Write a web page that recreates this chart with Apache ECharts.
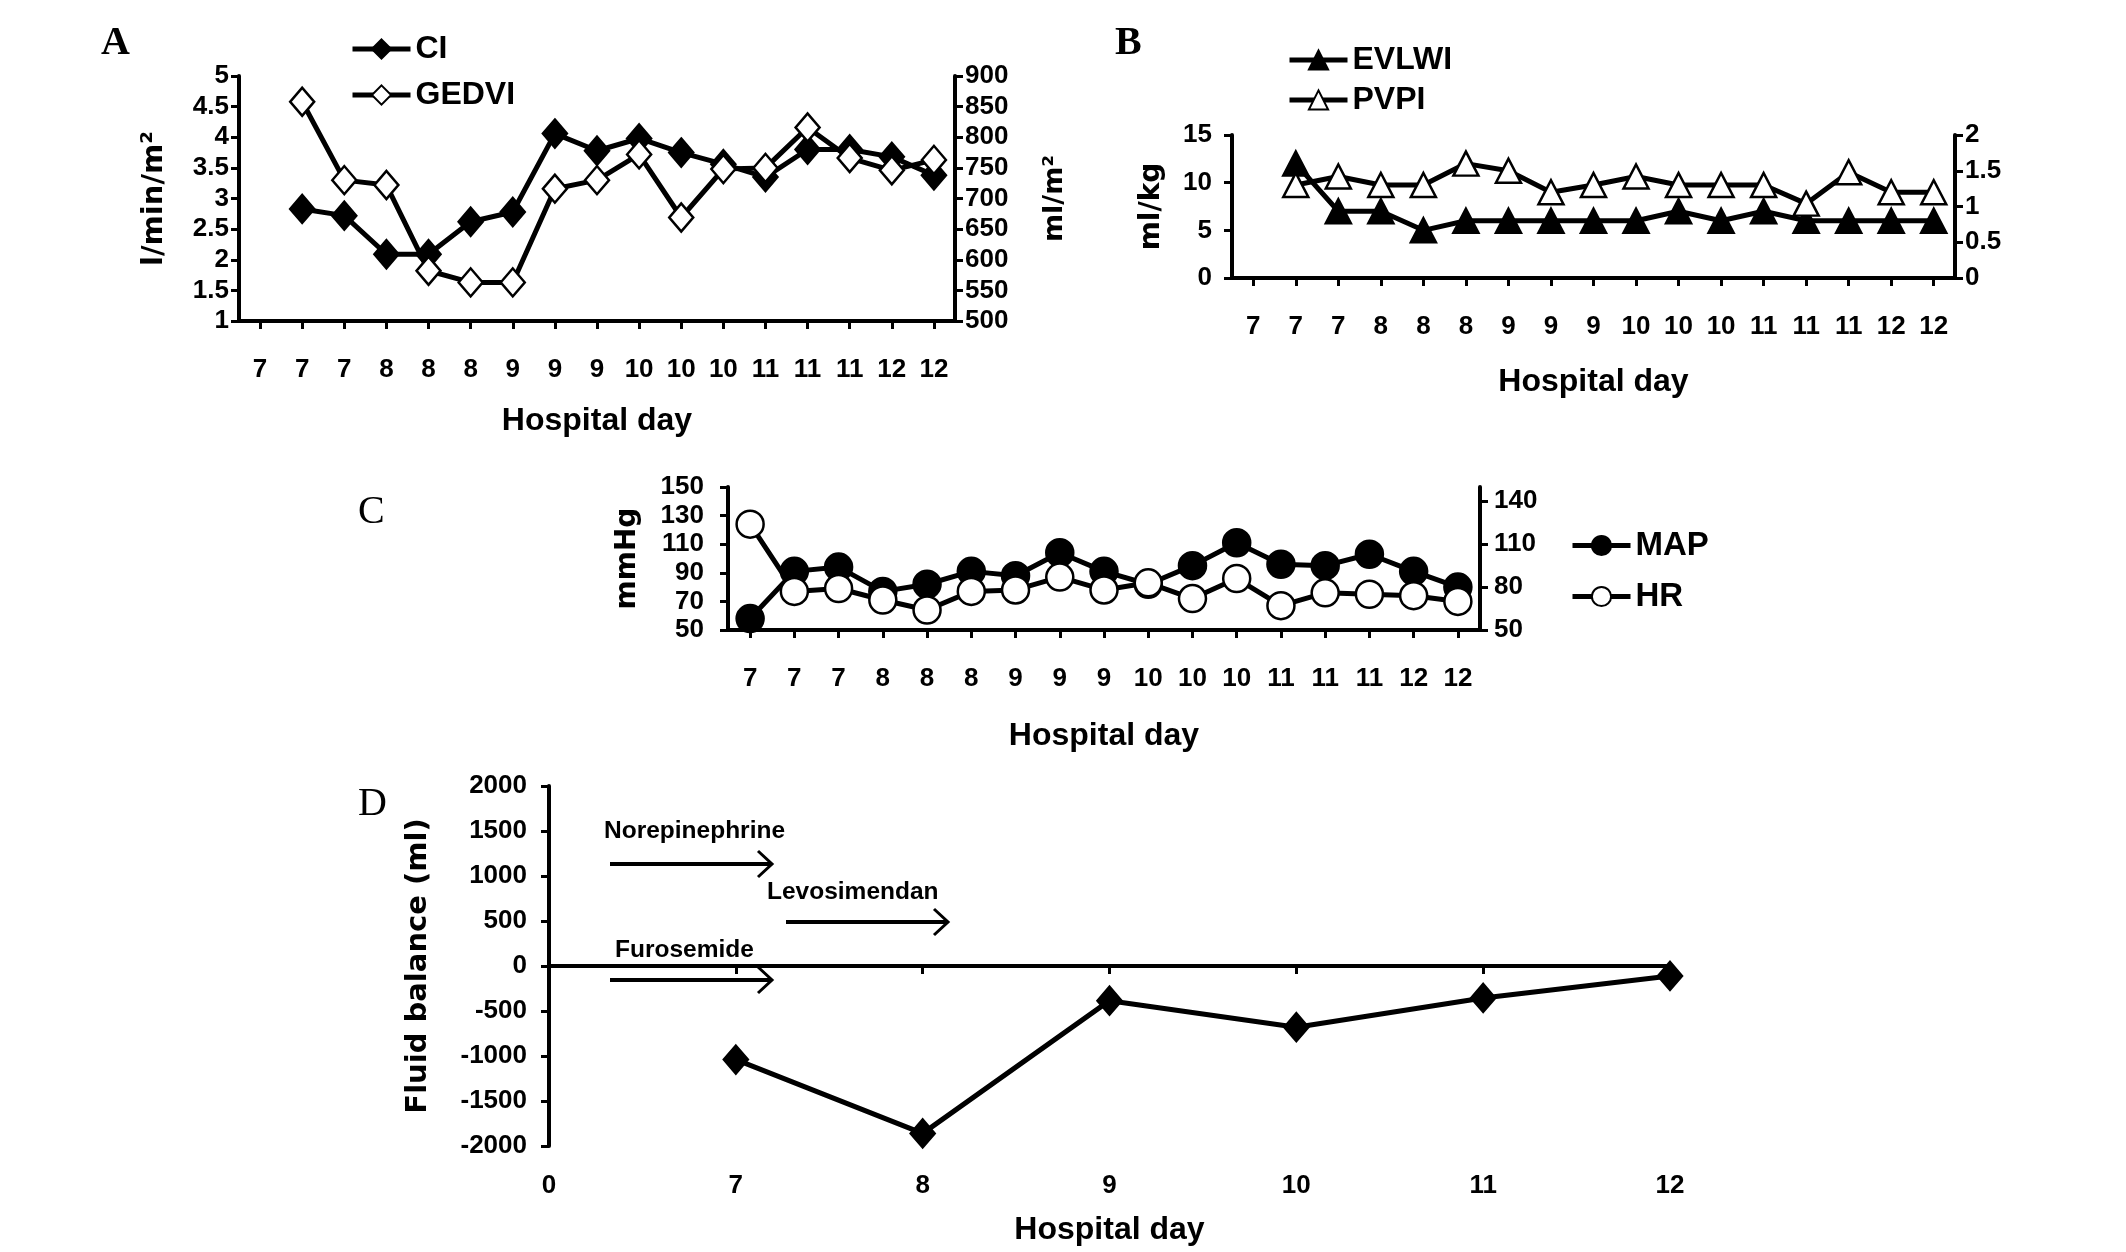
<!DOCTYPE html>
<html>
<head>
<meta charset="UTF-8">
<title>Hemodynamic monitoring</title>
<script src="https://cdn.jsdelivr.net/npm/echarts@6/dist/echarts.min.js"></script>
</head>
<body style="margin:0;background:#fff">
<div id="container" style="width:2126px;height:1252px"></div>
<script>
// x categories shared by panels A, B and C
var days = ['7', '7', '7', '8', '8', '8', '9', '9', '9', '10', '10', '10', '11', '11', '11', '12', '12'];
// panel A
var ci = [null, 2.83, 2.72, 2.09, 2.09, 2.62, 2.78, 4.06, 3.78, 3.98, 3.75, 3.56, 3.35, 3.80, 3.80, 3.68, 3.38];
var gedvi = [null, 858, 730, 722, 582, 563, 563, 716, 730, 772, 669, 748, 750, 816, 766, 746, 763];
// panel B
var evlwi = [null, 12, 7, 7, 5, 6, 6, 6, 6, 6, 7, 6, 7, 6, 6, 6, 6];
var pvpi = [null, 1.3, 1.42, 1.3, 1.3, 1.6, 1.5, 1.2, 1.3, 1.42, 1.3, 1.3, 1.3, 1.04, 1.48, 1.2, 1.2];
// panel C
var map = [58, 91, 94, 77, 82, 91, 88, 104, 91, 82, 95, 111, 96, 95, 103, 91, 80];
var hr = [124, 77, 79, 71, 64, 77, 78, 87, 78, 83, 72, 86, 67, 76, 75, 74, 70];
// panel D
var balanceDays = ['0', '7', '8', '9', '10', '11', '12'];
var balance = [null, -1040, -1860, -385, -680, -355, -110];

var dom = document.getElementById('container');
var myChart = echarts.init(dom);

var sans = '"Liberation Sans", Arial, sans-serif';
var wide = '"DejaVu Sans", Verdana, sans-serif';
var black = '#000';

function axisLine() {
	return { show: true, onZero: false, lineStyle: { color: black, width: 4 } };
}
function axisTick() {
	return { show: true, length: 8, lineStyle: { color: black, width: 3 } };
}
function axisLabel(size, margin) {
	return {
		color: black, fontFamily: sans, fontWeight: 'bold', fontSize: size, margin: margin,
		formatter: function (v) { return String(v); }   // no thousands separator
	};
}
function nameStyle(font, size) {
	return { color: black, fontFamily: font, fontWeight: 'bold', fontSize: size };
}

function dayAxis(grid, gap) {
	var tick = axisTick();
	tick.alignWithLabel = true;
	var label = axisLabel(26, 36);
	label.interval = 0;
	return {
		type: 'category', gridIndex: grid, data: days, boundaryGap: true,
		axisLine: axisLine(), axisTick: tick, axisLabel: label,
		name: 'Hospital day', nameLocation: 'middle', nameGap: gap,
		nameTextStyle: nameStyle(sans, 32)
	};
}

function valueAxis(grid, position, min, max, step, margin, name, gap, size) {
	return {
		type: 'value', gridIndex: grid, position: position,
		min: min, max: max, interval: step,
		splitLine: { show: false },
		axisLine: axisLine(), axisTick: axisTick(), axisLabel: axisLabel(26, margin),
		name: name, nameLocation: 'middle', nameGap: gap, nameRotate: 90,
		nameTextStyle: nameStyle(wide, size)
	};
}

function legend(names, left, top, gap, size) {
	return {
		data: names, orient: 'vertical', left: left, top: top,
		itemWidth: 58, itemHeight: 24, itemGap: gap,
		lineStyle: { width: 5, color: black },
		textStyle: { color: black, fontFamily: sans, fontWeight: 'bold', fontSize: size }
	};
}

function lineSeries(name, x, y, data, symbol, size, fill) {
	return {
		name: name, type: 'line', xAxisIndex: x, yAxisIndex: y, data: data,
		symbol: symbol, symbolSize: size, showAllSymbol: true,
		lineStyle: { color: black, width: 5 },
		itemStyle: { color: fill, borderColor: black, borderWidth: 2.5 },
		emphasis: { disabled: true }, animation: false
	};
}

function panelLetter(text, x, y, bold) {
	return {
		type: 'text', left: x, top: y,
		style: { text: text, fill: black, font: (bold ? 'bold ' : '') + '40px "Liberation Serif", "Times New Roman", serif' }
	};
}

function note(text, x, y) {
	return {
		type: 'text', left: x, top: y,
		style: { text: text, fill: black, font: 'bold 24.5px ' + sans }
	};
}

function arrow(x1, x2, y) {
	return {
		type: 'group',
		children: [
			{ type: 'line', shape: { x1: x1, y1: y, x2: x2, y2: y }, style: { stroke: black, lineWidth: 4 } },
			{ type: 'polyline', shape: { points: [[x2 - 14, y - 13], [x2, y], [x2 - 14, y + 13]] }, style: { stroke: black, lineWidth: 3, fill: null } }
		]
	};
}

var d3Axis = {
	type: 'category', gridIndex: 3, data: balanceDays, boundaryGap: false, position: 'bottom',
	axisLine: { show: false, onZero: false }, axisTick: { show: false },
	axisLabel: axisLabel(26, 27),
	name: 'Hospital day', nameLocation: 'middle', nameGap: 68,
	nameTextStyle: nameStyle(sans, 32)
};
var d3Zero = {
	type: 'category', gridIndex: 3, data: balanceDays, boundaryGap: false, position: 'bottom',
	axisLine: { show: true, onZero: true, lineStyle: { color: black, width: 4 } },
	axisTick: axisTick(), axisLabel: { show: false }
};

var option = {
	backgroundColor: '#fff',
	animation: false,
	grid: [
		{ left: 239, right: 1171, top: 76, bottom: 931 },
		{ left: 1232, right: 171, top: 135, bottom: 974 },
		{ left: 728, right: 646, top: 487, bottom: 622 },
		{ left: 549, right: 456, top: 786, bottom: 106 }
	],
	xAxis: [dayAxis(0, 84), dayAxis(1, 88), dayAxis(2, 90), d3Axis, d3Zero],
	yAxis: [
		valueAxis(0, 'left', 1, 5, 0.5, 10, 'l/min/m²', 70, 29),
		valueAxis(0, 'right', 500, 900, 50, 10, 'ml/m²', 86, 27),
		valueAxis(1, 'left', 0, 15, 5, 20, 'ml/kg', 66, 28),
		valueAxis(1, 'right', 0, 2, 0.5, 10, '', 0, 27),
		valueAxis(2, 'left', 50, 150, 20, 24, 'mmHg', 86, 28),
		valueAxis(2, 'right', 50, 150, 30, 14, '', 0, 27),
		valueAxis(3, 'left', -2000, 2000, 500, 22, 'Fluid balance (ml)', 116, 29)
	],
	legend: [
		legend(['CI', 'GEDVI'], 345, 28, 14, 32),
		legend(['EVLWI', 'PVPI'], 1282, 39, 8, 32),
		legend(['MAP', 'HR'], 1565, 524, 18, 33)
	],
	series: [
		lineSeries('CI', 0, 0, ci, 'diamond', [24, 28], black),
		lineSeries('GEDVI', 0, 1, gedvi, 'diamond', [24, 28], '#fff'),
		lineSeries('EVLWI', 1, 2, evlwi, 'triangle', [25, 24], black),
		lineSeries('PVPI', 1, 3, pvpi, 'triangle', [25, 24], '#fff'),
		lineSeries('MAP', 2, 4, map, 'circle', 27, black),
		lineSeries('HR', 2, 5, hr, 'circle', 27, '#fff'),
		lineSeries('Fluid balance', 3, 6, balance, 'diamond', [24, 28], black)
	],
	graphic: [
		panelLetter('A', 101, 24, true),
		panelLetter('B', 1115, 24, true),
		panelLetter('C', 358, 492, false),
		panelLetter('D', 358, 784, false),
		note('Norepinephrine', 604, 819),
		arrow(610, 772, 864),
		note('Levosimendan', 767, 880),
		arrow(786, 948, 922),
		note('Furosemide', 615, 938),
		arrow(610, 772, 980)
	]
};
// right axis of panel C stops its labels at 140
option.yAxis[5].axisLabel.showMaxLabel = false;

myChart.setOption(option, true);
</script>
</body>
</html>
